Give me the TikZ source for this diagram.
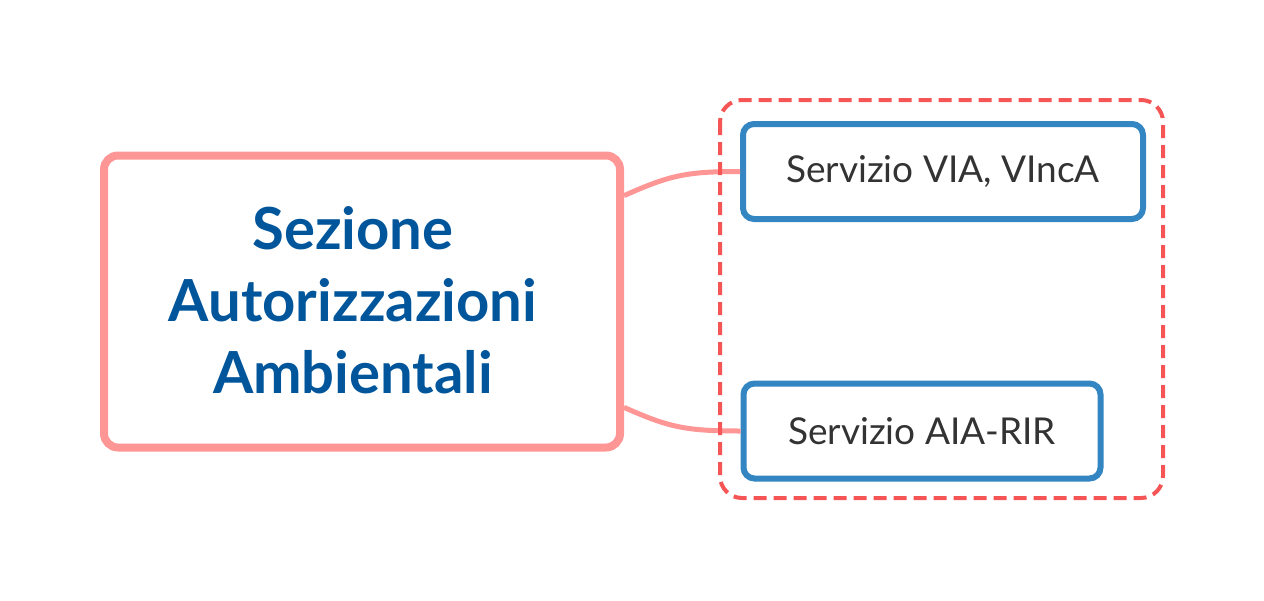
\documentclass[tikz,border=0pt]{standalone}
\usepackage{fontspec}
\setmainfont{Lato}
\usetikzlibrary{positioning}
\definecolor{rosa}{RGB}{255,150,150}
\definecolor{rosso}{RGB}{245,85,85}
\definecolor{azzurro}{RGB}{51,134,194}
\definecolor{blu}{RGB}{0,85,155}
\definecolor{grigio}{RGB}{51,51,51}
\tikzset{
	sezione/.style={draw=rosa,line width=8pt,rounded corners=14pt,fill=white,minimum width=516pt,minimum height=292pt},
	titolo/.style={text=blu,align=center,font=\fontsize{58}{72}\selectfont\bfseries},
	servizio/.style={draw=azzurro,line width=6pt,rounded corners=11pt,fill=white,minimum height=95pt,text=grigio,font=\fontsize{37}{44}\selectfont},
	gruppo/.style={draw=rosso,line width=4pt,rounded corners=22pt,dash pattern=on 13pt off 7pt},
	ramo/.style={draw=rosa,line width=5pt}
}
\begin{document}
\begin{tikzpicture}[x=1pt,y=-1pt]
		\useasboundingbox (0,0) rectangle (1264,600);
		
		\node[sezione] (sez) at (362,301.5) {};
		\node[titolo] (tit) at (353,300) {Sezione\\Autorizzazioni\\Ambientali};
		
		\node[servizio,minimum width=400pt] (via) at (943,171.5) {Servizio VIA, VIncA};
		\node[servizio,minimum width=357pt] (aia) at (922,431) {Servizio AIA-RIR};
		
		\draw[ramo] (sez.22.5) .. controls +(45,-20) and +(-55,0) .. (via.west);
		\draw[ramo] (sez.-22) .. controls +(45,20) and +(-55,0) .. (aia.west);
		
		\draw[gruppo] (720,100) rectangle (1163,498);
\end{tikzpicture}
\end{document}
